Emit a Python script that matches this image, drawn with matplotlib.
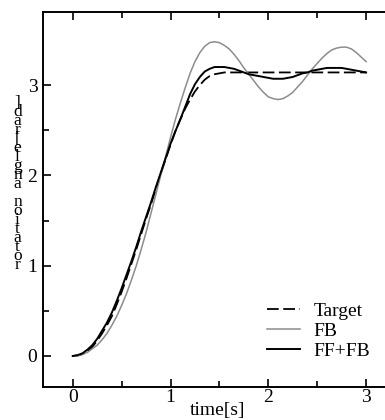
import matplotlib
matplotlib.use("Agg")
import matplotlib.pyplot as plt
import numpy as np

# time axis [s] and the three joint trajectories
t = np.arange(0, 3.0001, 0.05)

target = [0.00, 0.005, 0.02, 0.05, 0.10, 0.17, 0.25, 0.34, 0.44, 0.57,
          0.71, 0.86, 1.02, 1.18, 1.35, 1.52, 1.68, 1.85, 2.02, 2.18,
          2.34, 2.49, 2.62, 2.74, 2.84, 2.93, 3.00, 3.06, 3.10, 3.12,
          3.13, 3.14, 3.14, 3.14, 3.14, 3.14, 3.14, 3.14, 3.14, 3.14,
          3.14, 3.14, 3.14, 3.14, 3.14, 3.14, 3.14, 3.14, 3.14, 3.14,
          3.14, 3.14, 3.14, 3.14, 3.14, 3.14, 3.14, 3.14, 3.14, 3.14,
          3.14]

fb = [0.00, 0.00, 0.02, 0.04, 0.08, 0.12, 0.18, 0.25, 0.34, 0.44,
      0.56, 0.69, 0.84, 1.00, 1.18, 1.37, 1.58, 1.79, 2.00, 2.21,
      2.42, 2.62, 2.80, 2.97, 3.13, 3.26, 3.36, 3.43, 3.47, 3.48,
      3.47, 3.44, 3.40, 3.34, 3.27, 3.19, 3.12, 3.05, 2.98, 2.92,
      2.87, 2.85, 2.84, 2.85, 2.88, 2.92, 2.98, 3.04, 3.11, 3.18,
      3.24, 3.30, 3.35, 3.39, 3.41, 3.42, 3.42, 3.40, 3.36, 3.31,
      3.26]

fffb = [0.00, 0.01, 0.03, 0.07, 0.12, 0.19, 0.28, 0.37, 0.48, 0.61,
        0.75, 0.90, 1.05, 1.21, 1.38, 1.54, 1.70, 1.87, 2.03, 2.19,
        2.35, 2.49, 2.62, 2.76, 2.90, 3.01, 3.09, 3.15, 3.18, 3.20,
        3.20, 3.20, 3.19, 3.18, 3.16, 3.14, 3.12, 3.11, 3.10, 3.09,
        3.08, 3.07, 3.07, 3.07, 3.08, 3.09, 3.11, 3.13, 3.14, 3.16,
        3.17, 3.18, 3.19, 3.19, 3.19, 3.19, 3.18, 3.17, 3.16, 3.15,
        3.14]

labels = ["Target", "FB", "FF+FB"]
ylabel = "rotation angle[rad]"

plt.rcParams['font.family'] = ['Liberation Serif', 'DejaVu Serif']
plt.rcParams['font.size'] = 14

fig = plt.figure(figsize=(3.85, 4.2), dpi=100)
ax = fig.add_axes([43/385, 1 - 386.7/420, 350/385, (386.7 - 12.3)/420])

ax.plot(t, target, color='black', lw=1.3, linestyle=(0, (6.5, 2.5)), label=labels[0])
ax.plot(t, fb, color='#8c8c8c', lw=1.1, label=labels[1])
ax.plot(t, fffb, color='black', lw=1.4, label=labels[2])

ax.set_xlim(-0.304, 3.275)
ax.set_ylim(-0.34, 3.806)
ax.set_xticks([0, 1, 2, 3])
ax.set_yticks([0, 1, 2, 3])
ax.set_xticks([0.5, 1.5, 2.5], minor=True)
ax.set_yticks([0.5, 1.5, 2.5], minor=True)

ax.spines['right'].set_visible(False)
for s in ['left', 'bottom', 'top']:
    ax.spines[s].set_linewidth(1.4)
ax.tick_params(which='both', direction='in', top=True, right=False, width=1.2)
ax.tick_params(which='major', length=6)
ax.tick_params(which='minor', length=4.5)
ax.tick_params(axis='x', pad=2)
ax.tick_params(axis='y', pad=4)

ax.set_xlabel("time[s]", labelpad=-3)

# y label: upright characters stacked bottom-to-top, overlapping like the original
chars = list(ylabel)[::-1]
y_top = 103
dy = 9.0
for i, ch in enumerate(chars):
    fig.text(17.5/385, 1 - (y_top + i*dy)/420, ch, ha='center', va='center', fontsize=12.5)

ax.legend(loc='upper left', bbox_to_anchor=(0.64, 0.225), frameon=False,
          borderpad=0, borderaxespad=0, handlelength=1.7, handletextpad=0.7,
          labelspacing=0.12)

fig.savefig("out.png", dpi=100)
